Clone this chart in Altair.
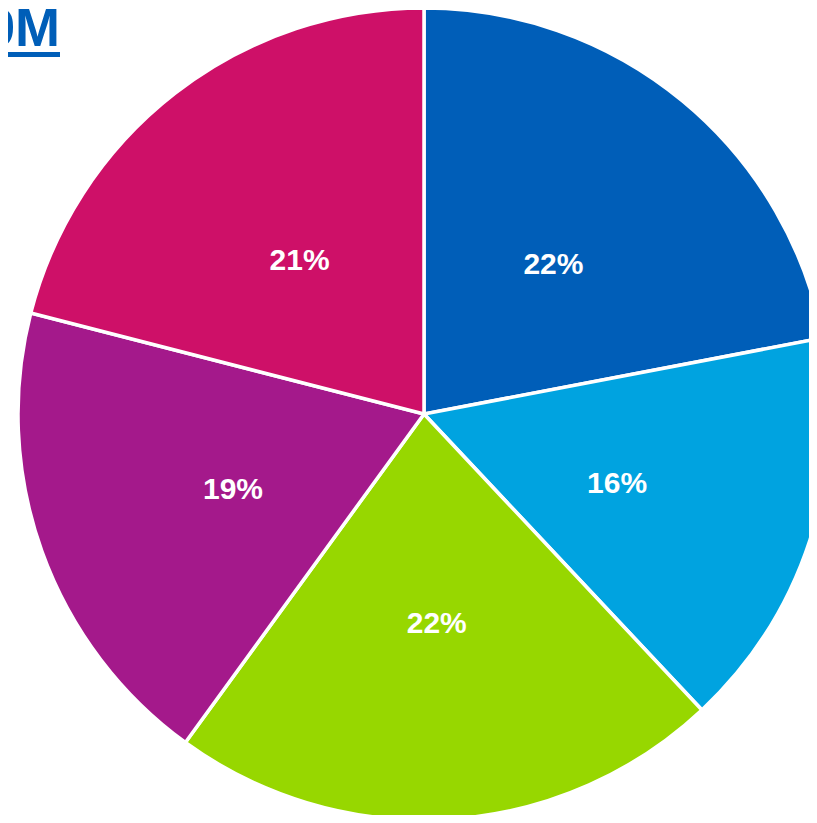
import altair as alt
import pandas as pd

categories = ["Segment A", "Segment B", "Segment C", "Segment D", "Segment E"]
values = [22, 16, 22, 19, 21]
colors = ["#005EB8", "#00A3E0", "#97D700", "#A4198B", "#CE1068"]
title_text = "$1.9M"

df = pd.DataFrame({
    "category": categories,
    "value": values,
    "order": list(range(len(categories))),
    "label": [f"{v}%" for v in values],
})

W, H = 801, 807
CX, CY, R = 416, 406, 406

base = alt.Chart(df).encode(
    theta=alt.Theta("value:Q", stack=True),
    order=alt.Order("order:Q"),
    x=alt.value(CX),
    y=alt.value(CY),
)

arcs = base.mark_arc(radius=R, stroke="white", strokeWidth=3.5).encode(
    color=alt.Color("category:N", scale=alt.Scale(domain=categories, range=colors), legend=None)
)

labels = base.mark_text(
    radius=203, fontSize=30, fontWeight="bold", font="Liberation Sans",
    color="white", align="center", baseline="middle", dy=7
).encode(text="label:N")

tdf = pd.DataFrame({"t": [title_text]})
title = alt.Chart(tdf).mark_text(
    fontSize=54, fontWeight="bold", font="Liberation Sans", color="#005EB8",
    align="right", baseline="alphabetic"
).encode(text="t:N", x=alt.value(52), y=alt.value(38))

underline = alt.Chart(tdf).mark_rule(color="#005EB8", strokeWidth=5).encode(
    x=alt.value(0), x2=alt.value(52), y=alt.value(46.5)
)

chart = alt.layer(arcs, labels, title, underline).properties(
    width=W, height=H, padding=0, autosize=alt.AutoSizeParams(type="none")
).configure_view(stroke=None)

chart.save("out.html", embed_options={"renderer": "svg", "actions": False})
